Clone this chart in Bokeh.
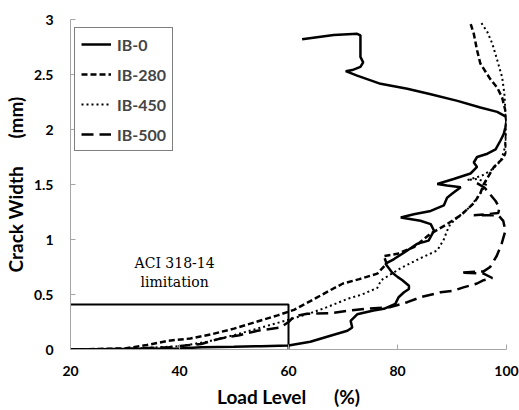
from bokeh.plotting import figure
from bokeh.models import Legend, LegendItem, FixedTicker
from bokeh.core.properties import value
from bokeh.embed import file_html
from bokeh.resources import INLINE

# ---- data (load level %, crack width mm) ----
ib0_x = [20, 30, 40, 44, 50, 55, 60, 64, 66, 68, 70.8, 71.7, 71.4, 72.6, 75.6, 77.5, 79.6, 80.2, 81.2, 82.1, 82.1,
         80.9, 80.0, 79.0, 77.8, 79.3, 81.8, 83.6, 85.7, 86.7, 86.1, 84.2, 80.6, 83.0, 86.1, 88.5, 89.1, 90.0, 91.6,
         89.1, 87.3, 90.3, 93.4, 94.6, 94.0, 94.6, 96.5, 98.0, 98.9, 99.5, 99.8, 100.0, 99.8, 98.3, 95.2, 91.0, 86.1,
         81.8, 76.9, 72.6, 70.5, 71.7, 73.2, 73.7, 73.2, 73.2, 72.6, 68.3, 62.5]
ib0_y = [0.0, 0.005, 0.01, 0.02, 0.025, 0.03, 0.036, 0.07, 0.1, 0.13, 0.17, 0.2, 0.26, 0.32, 0.355, 0.37, 0.415, 0.475,
         0.52, 0.55, 0.58, 0.63, 0.66, 0.70, 0.78, 0.82, 0.90, 0.96, 0.99, 1.08, 1.14, 1.17, 1.20, 1.23, 1.26, 1.31,
         1.38, 1.415, 1.475, 1.49, 1.505, 1.55, 1.60, 1.66, 1.70, 1.75, 1.78, 1.82, 1.90, 1.96, 2.02, 2.08, 2.12, 2.16,
         2.20, 2.26, 2.32, 2.37, 2.415, 2.49, 2.53, 2.54, 2.57, 2.61, 2.66, 2.855, 2.87, 2.86, 2.82]

ib280_x = [20, 30, 34, 38, 42, 46, 50, 54, 58, 61, 64, 67.7, 70, 73, 76.3, 78, 77.5, 80, 83, 86, 89.1, 91.6, 94,
           95.2, 95.8, 97.7, 99.2, 100, 99.8, 100, 100, 99.8, 99.2, 98.3, 97.0, 95.2, 94.6, 94.0, 93.3]
ib280_y = [0.0, 0.01, 0.04, 0.08, 0.10, 0.14, 0.19, 0.25, 0.31, 0.36, 0.44, 0.54, 0.60, 0.64, 0.69, 0.78, 0.85, 0.87,
           0.93, 1.05, 1.14, 1.22, 1.33, 1.42, 1.50, 1.66, 1.73, 1.80, 1.87, 2.0, 2.1, 2.17, 2.29, 2.38, 2.46, 2.60,
           2.72, 2.87, 2.98]

ib450_x = [20, 30, 40, 45, 50, 55, 60, 64, 67.1, 70.8, 73.5, 76.3, 77.0, 80.6, 84.2, 87.3, 88.5, 89.1, 89.7, 91.0,
           93.4, 95.2, 96.5, 94.6, 92.8, 95.5, 97.5, 99.0, 99.8, 100, 99.8, 99.6, 99.2, 98.3, 97.4, 96.5, 95.1]
ib450_y = [0.0, 0.005, 0.03, 0.07, 0.13, 0.20, 0.27, 0.33, 0.385, 0.46, 0.50, 0.56, 0.63, 0.74, 0.83, 0.90, 1.0, 1.08,
           1.14, 1.20, 1.30, 1.42, 1.52, 1.55, 1.54, 1.58, 1.64, 1.72, 1.85, 2.0, 2.17, 2.33, 2.475, 2.63, 2.78,
           2.885, 2.99]

ib500_x = [20, 30, 38, 44, 47.5, 51, 54.3, 58.5, 60, 61, 63.4, 67.7, 71.4, 74, 78.7, 81.8, 84.2, 87.9, 90.3, 92.1,
           94.6, 95.8, 97.4, 95.8, 91.6, 95.8, 97.0, 98.2, 99.1, 99.8, 99.4, 98.5, 94.0, 98.5, 98.7, 98.0, 96.0, 94.0]
ib500_y = [0.0, 0.005, 0.02, 0.05, 0.10, 0.13, 0.17, 0.20, 0.25, 0.30, 0.325, 0.33, 0.355, 0.37, 0.385, 0.43, 0.475,
           0.52, 0.535, 0.565, 0.60, 0.63, 0.65, 0.69, 0.70, 0.71, 0.75, 0.85, 0.96, 1.08, 1.17, 1.22, 1.22, 1.24,
           1.29, 1.35, 1.47, 1.53]

aci_x = [20, 60, 60]
aci_y = [0.41, 0.41, 0.0]
aci_text = ["ACI 318-14", "limitation"]
aci_text_x = [39.1, 39.1]
aci_text_y = [0.79, 0.61]

x_ticks = [20, 40, 60, 80, 100]
y_ticks = [0, 0.5, 1, 1.5, 2, 2.5, 3]
y_tick_labels = ["0", "0.5", "1", "1.5", "2", "2.5", "3"]

NB = "\u00a0"

p = figure(width=519, height=410, output_backend="svg", toolbar_location=None,
           x_range=(20, 100), y_range=(0, 3),
           min_border_left=70, min_border_right=13, min_border_top=19, min_border_bottom=61)
p.outline_line_color = None
p.grid.visible = False
p.background_fill_color = "white"

r0 = p.line(ib0_x, ib0_y, line_color="black", line_width=2.5)
r280 = p.line(ib280_x, ib280_y, line_color="black", line_width=2.5, line_dash="6 3")
r450 = p.line(ib450_x, ib450_y, line_color="black", line_width=2, line_dash="2 3")
r500 = p.line(ib500_x, ib500_y, line_color="black", line_width=2.5, line_dash="12 6")
p.line(aci_x, aci_y, line_color="black", line_width=2)

p.text(x=aci_text_x, y=aci_text_y, text=aci_text, text_font=value("DejaVu Serif"),
       text_font_size="14px", text_align="center", text_baseline="middle", text_color="black")

for ax in (p.xaxis[0], p.yaxis[0]):
    ax.axis_line_color = "#a6a6a6"
    ax.major_tick_line_color = "#a6a6a6"
    ax.major_tick_in = 5
    ax.major_tick_out = 0
    ax.minor_tick_line_color = None
    ax.major_label_text_font = "Lato"
    ax.major_label_text_font_style = "bold"
    ax.major_label_text_font_size = "14px"
    ax.major_label_text_color = "black"
    ax.axis_label_text_font = "Lato"
    ax.axis_label_text_font_style = "bold"
    ax.axis_label_text_font_size = "19px"
    ax.axis_label_text_color = "black"

p.xaxis.ticker = FixedTicker(ticks=x_ticks)
p.yaxis.ticker = FixedTicker(ticks=y_ticks)
p.yaxis.major_label_overrides = {t: l for t, l in zip(y_ticks, y_tick_labels)}
p.xaxis.major_label_standoff = 16
p.yaxis.major_label_standoff = 17
p.xaxis.axis_label = "Load Level" + NB * 6 + "(%)"
p.yaxis.axis_label = "Crack Width" + NB * 6 + "(mm)"
p.xaxis.axis_label_standoff = 6
p.yaxis.axis_label_standoff = 4

legend = Legend(items=[LegendItem(label="IB-0", renderers=[r0]),
                       LegendItem(label="IB-280", renderers=[r280]),
                       LegendItem(label="IB-450", renderers=[r450]),
                       LegendItem(label="IB-500", renderers=[r500])],
                location=(4, 198))
legend.border_line_color = "black"
legend.border_line_width = 1
legend.background_fill_alpha = 1
legend.label_text_font = "Lato"
legend.label_text_font_style = "bold"
legend.label_text_font_size = "16px"
legend.label_height = 20
legend.glyph_height = 20
legend.glyph_width = 30
legend.spacing = 10
legend.padding = 6
legend.margin = 0
legend.label_standoff = 6
p.add_layout(legend, "center")

open("out.html", "w").write(file_html(p, INLINE))
